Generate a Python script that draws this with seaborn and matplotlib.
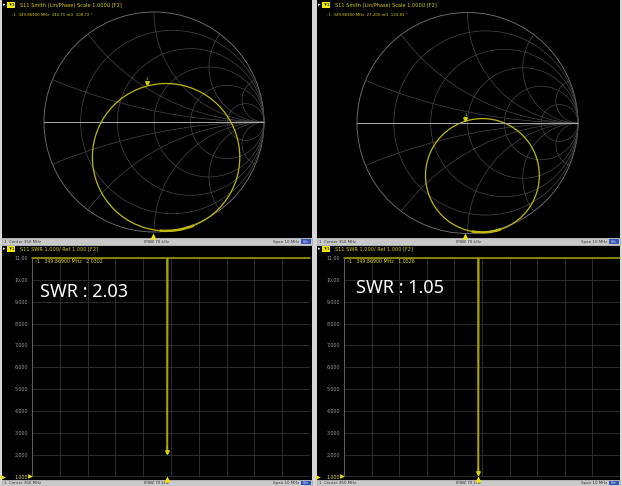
import numpy as np
import matplotlib
matplotlib.use("Agg")
import matplotlib.pyplot as plt
from matplotlib.patches import Rectangle, Circle, Arc
from matplotlib import transforms
import seaborn as sns

# ---- measurement values -------------------------------------------------
center_mhz = 350.0
span_mhz = 10.0
marker_freq_mhz = 349.869
smith_mag_mu = [340.75, 27.205]          # |S11| at marker, milli-units
smith_phase_deg = [100.72, 133.83]       # S11 phase at marker
swr_at_marker = [2.0302, 1.0526]
swr_captions = ["SWR : 2.03", "SWR : 1.05"]

# Smith-chart trace loci in the reflection plane (centre, radius)
trace_center_re = [0.11, 0.135]
trace_center_im = [-0.32, -0.475]
trace_radius = [0.67, 0.515]
# band edges of the sweep crowd together on this arc (degrees)
trace_dense_from = [265, 259]
trace_dense_to = [292, 289]

# SWR sweep (values above the graticule top are pinned at 11)
sweep_freq = [345.0, 349.852, 349.869, 349.886, 355.0]
swr_off_resonance = 11.0

swr_ticks = [1, 2, 3, 4, 5, 6, 7, 8, 9, 10, 11]
swr_tick_labels = ["1.000", "2.000", "3.000", "4.000", "5.000", "6.000",
                   "7.000", "8.000", "9.000", "10.00", "11.00"]

# ---- styling ------------------------------------------------------------
W, H = 622, 486
sns.set_theme(style="dark")
plt.rcParams["font.family"] = ["DejaVu Sans"]

YEL = "#d8d000"
TRACE_SMITH = "#c0b810"
TRACE_SWR = "#a8a200"
GRID = "#333333"
SMITH_GRID = "#484848"

fig = plt.figure(figsize=(W / 100, H / 100), dpi=100, facecolor="#d6d6d6")


def px_axes(x0, y0, x1, y1, z=1):
    return fig.add_axes([x0 / W, 1 - y1 / H, (x1 - x0) / W, (y1 - y0) / H], zorder=z)


bg = px_axes(0, 0, W, H, z=0)
bg.set_xlim(0, W)
bg.set_ylim(H, 0)
bg.set_axis_off()

cols = [(2, 312), (317, 620)]
rows = [(0, 238), (246, 480)]
status = [(238, 245), (480, 486)]

for (x0, x1) in cols:
    for (y0, y1), (s0, s1) in zip(rows, status):
        bg.add_patch(Rectangle((x0, y0), x1 - x0, y1 - y0, color="black", lw=0))
        bg.add_patch(Rectangle((x0, s0), x1 - x0, s1 - s0, fc="#c9c9c9", ec="#9a9a9a", lw=0.4))
        sy = (s0 + s1) / 2
        bg.text(x0 + 2, sy, "1  Center 350 MHz", fontsize=2.9, color="#333333", va="center")
        bg.text(x0 + (x1 - x0) * 0.5, sy, "IFBW 70 kHz", fontsize=2.9, color="#333333",
                va="center", ha="center")
        bg.text(x1 - 13, sy, "Span 10 MHz", fontsize=2.9, color="#333333", va="center", ha="right")
        bg.add_patch(Rectangle((x1 - 11, s0 + 0.8), 10, s1 - s0 - 1.6, fc="#3355bb", ec="none"))
        bg.text(x1 - 6, sy, "Cnt", fontsize=2.4, color="white", va="center", ha="center")

# overlay for readouts and captions
top = px_axes(0, 0, W, H, z=10)
top.set_xlim(0, W)
top.set_ylim(H, 0)
top.set_axis_off()
top.patch.set_alpha(0)


def title_bar(x0, y, text):
    top.text(x0 + 1, y, "\u25b8", fontsize=3.5, color="white", va="center")
    top.text(x0 + 6, y, "Tr1", fontsize=3.2, color="black", va="center",
             bbox=dict(boxstyle="square,pad=0.15", fc="#f0e800", ec="none"))
    top.text(x0 + 18, y, text, fontsize=3.6, color=YEL, va="center")


# ---- Smith charts -------------------------------------------------------
smith_geom = [(154, 122, 110), (467.5, 123, 110.5)]
for i, ((x0, x1), (cx, cy, R)) in enumerate(zip(cols, smith_geom)):
    ax = px_axes(x0, 0, x1, 238, z=2)
    ax.set_xlim((x0 - cx) / R, (x1 - cx) / R)
    ax.set_ylim((cy - 238) / R, (cy - 0) / R)
    ax.set_axis_off()
    ax.patch.set_alpha(0)

    unit = Circle((0, 0), 1, fill=False, ec="#777777", lw=0.6)
    ax.add_patch(unit)
    for r in [0.2, 0.5, 1.0, 2.0, 5.0]:
        ax.add_patch(Circle((r / (1 + r), 0), 1 / (1 + r), fill=False, ec=SMITH_GRID, lw=0.5))
    for x in [0.2, 0.5, 1.0, 2.0, 5.0]:
        for s in (1, -1):
            arc = Circle((1, s / x), 1 / x, fill=False, ec=SMITH_GRID, lw=0.5)
            ax.add_patch(arc)
            arc.set_clip_path(unit)
    ax.plot([-1, 1], [0, 0], color="#adadad", lw=0.7)

    # measured trace
    c = (trace_center_re[i], trace_center_im[i])
    rad = trace_radius[i]
    ax.add_patch(Circle(c, rad, fill=False, ec=TRACE_SMITH, lw=0.9))
    ax.add_patch(Arc(c, 2 * rad, 2 * rad, theta1=trace_dense_from[i],
                     theta2=trace_dense_to[i], ec=TRACE_SMITH, lw=1.8))

    # marker 1
    g = smith_mag_mu[i] / 1000 * np.exp(1j * np.deg2rad(smith_phase_deg[i]))
    ax.plot([g.real], [g.imag], marker="v", ms=2.6, color=YEL, mec=YEL,
            transform=transforms.offset_copy(ax.transData, fig=fig, x=0, y=1.6, units="points"),
            clip_on=False)
    ax.text(g.real, g.imag, "1", fontsize=3.2, color=YEL, ha="center", va="bottom",
            transform=transforms.offset_copy(ax.transData, fig=fig, x=0, y=3.0, units="points"))

    # stimulus position marker along the panel bottom
    fx = x0 + 3 + (marker_freq_mhz - (center_mhz - span_mhz / 2)) / span_mhz * (x1 - x0 - 6)
    top.plot([fx], [235.5], marker="^", ms=4.2, color="#f4e400", mec="none")

    title_bar(x0, 5, "S11 Smith (Lin/Phase) Scale 1.000U [F2]")
    top.text(x0 + 10, 15,
             f"\u203a1  {marker_freq_mhz:.5f} MHz  {smith_mag_mu[i]:g} mU  {smith_phase_deg[i]:.2f} \u00b0",
             fontsize=2.8, color=YEL, va="center")

# ---- SWR plots ----------------------------------------------------------
swr_boxes = [(32, 258, 310, 476.5), (344, 258, 620, 476.5)]
caption_pos = [(40, 292), (356, 288)]
for i, (bx0, by0, bx1, by1) in enumerate(swr_boxes):
    ax = px_axes(bx0, by0, bx1, by1, z=3)
    ax.set_facecolor("black")
    freqs = np.linspace(center_mhz - span_mhz / 2, center_mhz + span_mhz / 2, 11)
    ax.set_xticks(freqs)
    ax.set_xticklabels([])
    ax.set_yticks(swr_ticks)
    ax.set_yticklabels(swr_tick_labels)
    ax.set_xlim(freqs[0], freqs[-1])
    ax.set_ylim(1, 11)
    ax.grid(True, color=GRID, lw=0.6)
    ax.tick_params(length=0, pad=3.0, labelsize=3.4, labelcolor="#9c9c9c")
    ax.get_yticklabels()[0].set_color("#d8d070")
    for sname, sp in ax.spines.items():
        sp.set_visible(sname == "left")
        sp.set_color("#6a6a6a")
        sp.set_linewidth(0.6)

    swr_vals = [swr_off_resonance, swr_off_resonance, swr_at_marker[i],
                swr_off_resonance, swr_off_resonance]
    sns.lineplot(x=sweep_freq, y=swr_vals, ax=ax, color=TRACE_SWR, lw=1.1,
                 clip_on=False, legend=False)

    # marker 1 at the dip
    ax.plot([marker_freq_mhz], [swr_at_marker[i]], marker="v", ms=2.6, color=YEL, mec=YEL,
            transform=transforms.offset_copy(ax.transData, fig=fig, x=0, y=1.6, units="points"),
            clip_on=False)
    ax.text(marker_freq_mhz, swr_at_marker[i], "1", fontsize=3.2, color=YEL, ha="center",
            va="bottom",
            transform=transforms.offset_copy(ax.transData, fig=fig, x=0, y=3.0, units="points"))
    # stimulus marker on the bottom edge
    ax.plot([marker_freq_mhz], [1], marker="^", ms=4.2, color="#f4e400", mec="none",
            transform=transforms.offset_copy(ax.transData, fig=fig, x=0, y=-1.6, units="points"),
            clip_on=False)
    # reference-level pointers
    ax.plot([freqs[0]], [1], marker=">", ms=3.4, color="#f4e400", mec="none",
            transform=transforms.offset_copy(ax.transData, fig=fig, x=-1.2, y=0, units="points"),
            clip_on=False)
    x0 = cols[i][0]
    top.plot([x0 + 0.5], [by1], marker=">", ms=3.4, color="#f4e400", mec="none")

    title_bar(x0, 249, "S11 SWR 1.000/ Ref 1.000 [F2]")
    top.text(bx0 + 3, 261,
             f"\u203a1   {marker_freq_mhz:.5f} MHz   {swr_at_marker[i]:.4f}",
             fontsize=3.4, color=YEL, va="center")
    cx_, cy_ = caption_pos[i]
    top.text(cx_, cy_, swr_captions[i], fontsize=13, color="white", va="center",
             family=["Noto Sans", "DejaVu Sans"])

fig.savefig("out.png", dpi=100, facecolor=fig.get_facecolor())
